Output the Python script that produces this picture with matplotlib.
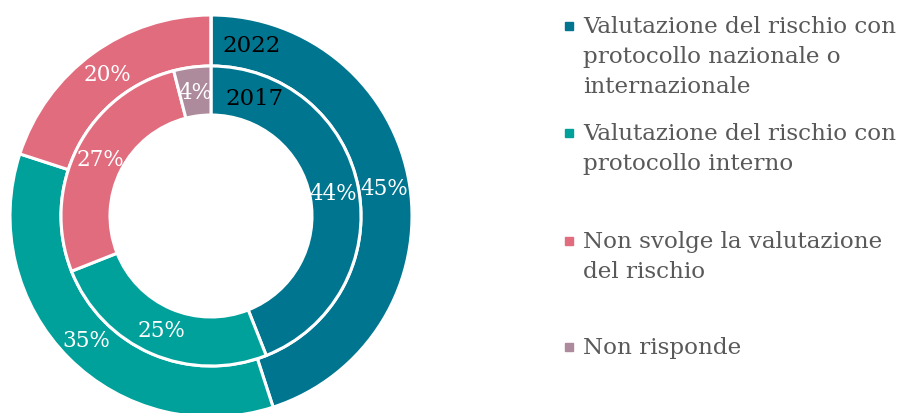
import matplotlib.pyplot as plt
from matplotlib.patches import Rectangle

plt.rcParams['font.family'] = ['DejaVu Serif']

# categories and values (%)
categories = ['Valutazione del rischio con\nprotocollo nazionale o\ninternazionale',
              'Valutazione del rischio con\nprotocollo interno',
              'Non svolge la valutazione\ndel rischio',
              'Non risponde']
values_2022 = [45, 35, 20, 0]
values_2017 = [44, 25, 27, 4]
colors = ['#00758F', '#00A19A', '#E16C7E', '#AD8A9C']


def pct_label(p):
    return '%d%%' % round(p) if p > 0.5 else ''


fig = plt.figure(figsize=(9.02, 4.14), dpi=100)
# axes in pixel units, origin at pie centre
ax = fig.add_axes([0, 0, 1, 1])
cx, cy = 211, 197
R_out, R_mid, R_in = 201, 150, 101

wedge_kw = dict(edgecolor='white', linewidth=2.2)
txt_kw = dict(color='white', fontsize=15.5)

ax.pie(values_2022, colors=colors, radius=R_out, startangle=90, counterclock=False,
       wedgeprops=dict(width=R_out - R_mid, **wedge_kw),
       autopct=pct_label, pctdistance=0.875, textprops=txt_kw)
ax.pie(values_2017, colors=colors, radius=R_mid, startangle=90, counterclock=False,
       wedgeprops=dict(width=R_mid - R_in, **wedge_kw),
       autopct=pct_label, pctdistance=0.83, textprops=txt_kw)

ax.text(11, 171, '2022', fontsize=16.5, color='black', va='center', ha='left')
ax.text(14, 118, '2017', fontsize=16.5, color='black', va='center', ha='left')

ax.set_xlim(-cx, 902 - cx)
ax.set_ylim(-cy, 414 - cy)
ax.set_aspect('equal')
ax.axis('off')

# legend drawn by hand (entries evenly spaced)
tops = [16, 123, 231, 337]
for lab, col, top in zip(categories, colors, tops):
    fig.text(583 / 902, 1 - top / 414, lab, fontsize=16.6, color='#595959',
             va='top', ha='left', linespacing=1.47)
    fig.patches.append(Rectangle((565 / 902, 1 - (top + 15) / 414), 8 / 902, 8 / 414,
                                 transform=fig.transFigure, color=col))

fig.savefig('out.png', dpi=100)
